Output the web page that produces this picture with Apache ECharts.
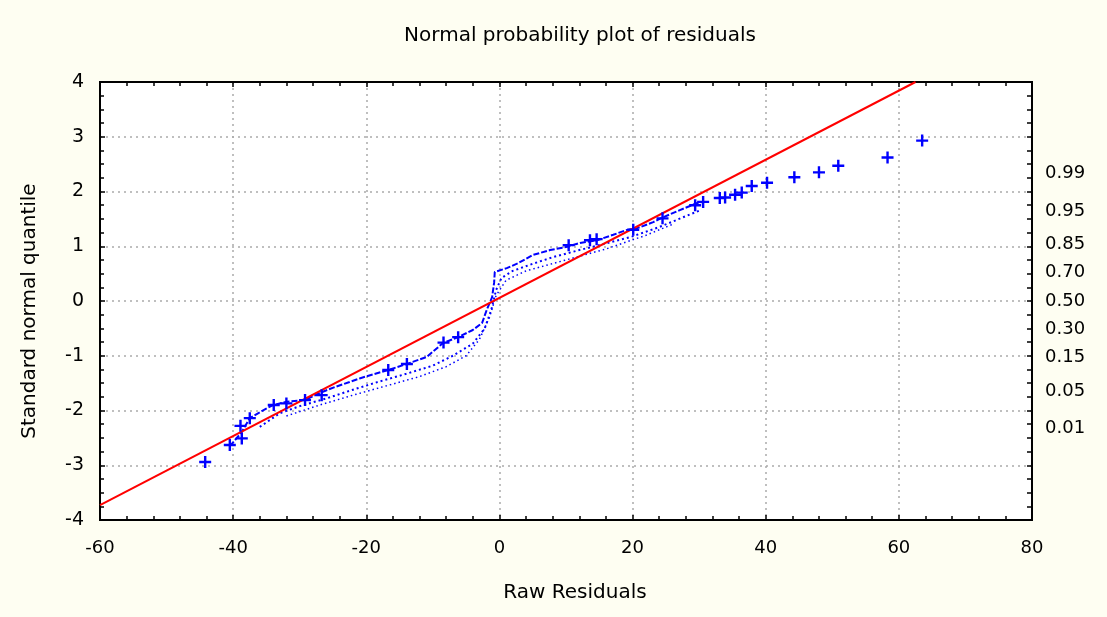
<!DOCTYPE html>
<html>
<head>
<meta charset="utf-8">
<script src="https://cdn.jsdelivr.net/npm/echarts@6/dist/echarts.min.js"></script>
<style>
html,body{margin:0;padding:0;background:#fefef2;}
#c{width:1107px;height:617px;}
</style>
</head>
<body>
<div id="c"></div>
<script>
// ---- data ----
const xTicks = [-60, -40, -20, 0, 20, 40, 60, 80];
const yTicks = [-4, -3, -2, -1, 0, 1, 2, 3, 4];
const probLabels = ['0.01', '0.05', '0.15', '0.30', '0.50', '0.70', '0.85', '0.95', '0.99'];
const probQuantiles = [-2.326, -1.645, -1.036, -0.524, 0, 0.524, 1.036, 1.645, 2.326];

// residuals drawn with "+" markers
const plusPoints = [
  [-44.2, -2.94], [-40.5, -2.63], [-38.7, -2.51], [-38.9, -2.28], [-37.5, -2.14],
  [-33.9, -1.90], [-32.0, -1.87], [-29.2, -1.81], [-26.7, -1.72],
  [-16.7, -1.26], [-13.9, -1.15], [-8.4, -0.76], [-6.2, -0.66],
  [10.4, 1.02], [13.6, 1.11], [14.6, 1.13], [20.1, 1.30], [24.5, 1.51],
  [29.4, 1.75], [30.6, 1.81], [33.1, 1.88], [33.9, 1.89], [35.4, 1.94], [36.4, 1.98],
  [37.9, 2.10], [40.2, 2.16], [44.3, 2.26], [48.0, 2.35], [50.9, 2.47],
  [58.3, 2.62], [63.5, 2.93]
];

// dense residual trace (main)
const denseMain = [
  [-40.5, -2.65], [-38.8, -2.41], [-37.5, -2.14], [-35.7, -2.01], [-34.0, -1.90],
  [-31.9, -1.84], [-29.2, -1.81], [-27.0, -1.68], [-24.7, -1.57], [-22.5, -1.48],
  [-20.9, -1.41], [-16.7, -1.26], [-13.9, -1.15], [-10.9, -1.02], [-8.5, -0.77],
  [-6.2, -0.66], [-4.0, -0.53], [-2.6, -0.40], [-1.9, -0.16], [-1.1, 0.07],
  [-0.8, 0.33], [-0.7, 0.53], [1.1, 0.60], [2.8, 0.69], [5.0, 0.84], [7.6, 0.93],
  [10.2, 0.99], [12.1, 1.06], [14.7, 1.11], [17.1, 1.21], [19.2, 1.30], [20.7, 1.33],
  [23.1, 1.44], [24.6, 1.53], [27.1, 1.66], [29.7, 1.79], [30.6, 1.81]
];

// dense residual trace (dotted, offset)
const denseA = [
  [-36.0, -2.30], [-33.0, -2.05], [-30.0, -1.92], [-26.0, -1.78], [-22.0, -1.62],
  [-18.0, -1.47], [-14.0, -1.33], [-10.0, -1.18], [-7.0, -1.00], [-4.0, -0.78],
  [-2.2, -0.50], [-1.2, -0.15], [-0.5, 0.20], [0.3, 0.42], [2.0, 0.55], [5.0, 0.68],
  [8.0, 0.80], [12.0, 0.93], [16.0, 1.05], [20.0, 1.18], [24.0, 1.35], [28.0, 1.55],
  [30.0, 1.65]
];

// dense residual trace (dotted, further offset)
const denseB = [
  [-32.0, -2.10], [-27.0, -1.90], [-22.0, -1.72], [-17.0, -1.55], [-12.0, -1.38],
  [-8.0, -1.20], [-5.0, -1.00], [-3.0, -0.70], [-1.5, -0.30], [-0.5, 0.10],
  [1.0, 0.38], [4.0, 0.55], [10.0, 0.75], [16.0, 0.95], [22.0, 1.20], [26.0, 1.40]
];

// fitted normal line
const fitLine = [[-60, -3.73], [62.5, 4.0]];

const FONT = 'DejaVu Sans';
const chart = echarts.init(document.getElementById('c'));
const plusPath = 'path://M4,0H6V4H10V6H6V10H4V6H0V4H4Z';
const tickStyle = { color: '#000', width: 1.5 };

chart.setOption({
  backgroundColor: '#fefef2',
  animation: false,
  title: {
    text: 'Normal probability plot of residuals',
    left: 575, top: 21, textAlign: 'center',
    textStyle: { fontFamily: FONT, fontSize: 20, fontWeight: 'normal', color: '#000' }
  },
  grid: {
    left: 100, right: 75, top: 82, bottom: 97,
    show: true, backgroundColor: '#ffffff', borderColor: '#000', borderWidth: 2
  },
  xAxis: [{
    type: 'value', min: xTicks[0], max: xTicks[xTicks.length - 1], interval: 20,
    position: 'bottom',
    name: 'Raw Residuals', nameLocation: 'middle', nameGap: 63,
    nameTextStyle: { fontFamily: FONT, fontSize: 20, color: '#000', padding: [0, 0, 0, 18] },
    axisLine: { show: true, onZero: false, lineStyle: { color: '#000', width: 2 } },
    axisTick: { show: true, inside: true, length: 5, lineStyle: tickStyle },
    minorTick: { show: true, splitNumber: 5, length: 4, lineStyle: tickStyle },
    axisLabel: { fontFamily: FONT, fontSize: 18, color: '#000', margin: 19 },
    splitLine: { show: true, lineStyle: { color: '#aaaaaa', type: [2, 4], width: 1.5 } }
  }, {
    type: 'value', min: xTicks[0], max: xTicks[xTicks.length - 1], interval: 20,
    position: 'top',
    axisLine: { show: true, onZero: false, lineStyle: { color: '#000', width: 2 } },
    axisTick: { show: true, inside: true, length: 5, lineStyle: tickStyle },
    minorTick: { show: true, splitNumber: 5, length: 4, lineStyle: tickStyle },
    axisLabel: { show: false },
    splitLine: { show: false }
  }],
  yAxis: [{
    type: 'value', min: yTicks[0], max: yTicks[yTicks.length - 1], interval: 1,
    position: 'left',
    name: 'Standard normal quantile', nameLocation: 'middle', nameGap: 60, nameRotate: 90,
    nameTextStyle: { fontFamily: FONT, fontSize: 20, color: '#000', padding: [0, 20, 0, 0] },
    axisLine: { show: true, onZero: false, lineStyle: { color: '#000', width: 2 } },
    axisTick: { show: true, inside: true, length: 5, lineStyle: tickStyle },
    minorTick: { show: true, splitNumber: 4, length: 4, lineStyle: tickStyle },
    axisLabel: { fontFamily: FONT, fontSize: 19, color: '#000', margin: 16 },
    splitLine: { show: true, lineStyle: { color: '#aaaaaa', type: [2, 4], width: 1.5 } }
  }, {
    type: 'value', min: -4, max: 4, interval: 0.25,
    position: 'right',
    axisLine: { show: true, onZero: false, lineStyle: { color: '#000', width: 2 } },
    axisTick: { show: true, inside: true, length: 5, lineStyle: tickStyle },
    axisLabel: {
      fontFamily: FONT, fontSize: 18, color: '#000', margin: 13,
      customValues: probQuantiles,
      formatter: function (v) {
        let best = 0, d = 1e9;
        probQuantiles.forEach(function (q, i) { if (Math.abs(q - v) < d) { d = Math.abs(q - v); best = i; } });
        return probLabels[best];
      }
    },
    splitLine: { show: false }
  }],
  series: [
    {
      type: 'line', data: denseB, symbol: 'none', silent: true,
      lineStyle: { color: '#0000ff', width: 1.5, type: [1.5, 3] }, z: 2
    },
    {
      type: 'line', data: denseA, symbol: 'none', silent: true,
      lineStyle: { color: '#0000ff', width: 2, type: [2, 3] }, z: 2
    },
    {
      type: 'line', data: denseMain, symbol: 'none', silent: true,
      lineStyle: { color: '#0000ff', width: 2, type: [6, 2] }, z: 3
    },
    {
      type: 'line', data: fitLine, symbol: 'none', silent: true,
      lineStyle: { color: '#ff0000', width: 2 }, z: 4
    },
    {
      type: 'scatter', data: plusPoints, symbol: plusPath, symbolSize: 12,
      itemStyle: { color: '#0000ff', opacity: 1 }, z: 5
    }
  ]
});
</script>
</body>
</html>
